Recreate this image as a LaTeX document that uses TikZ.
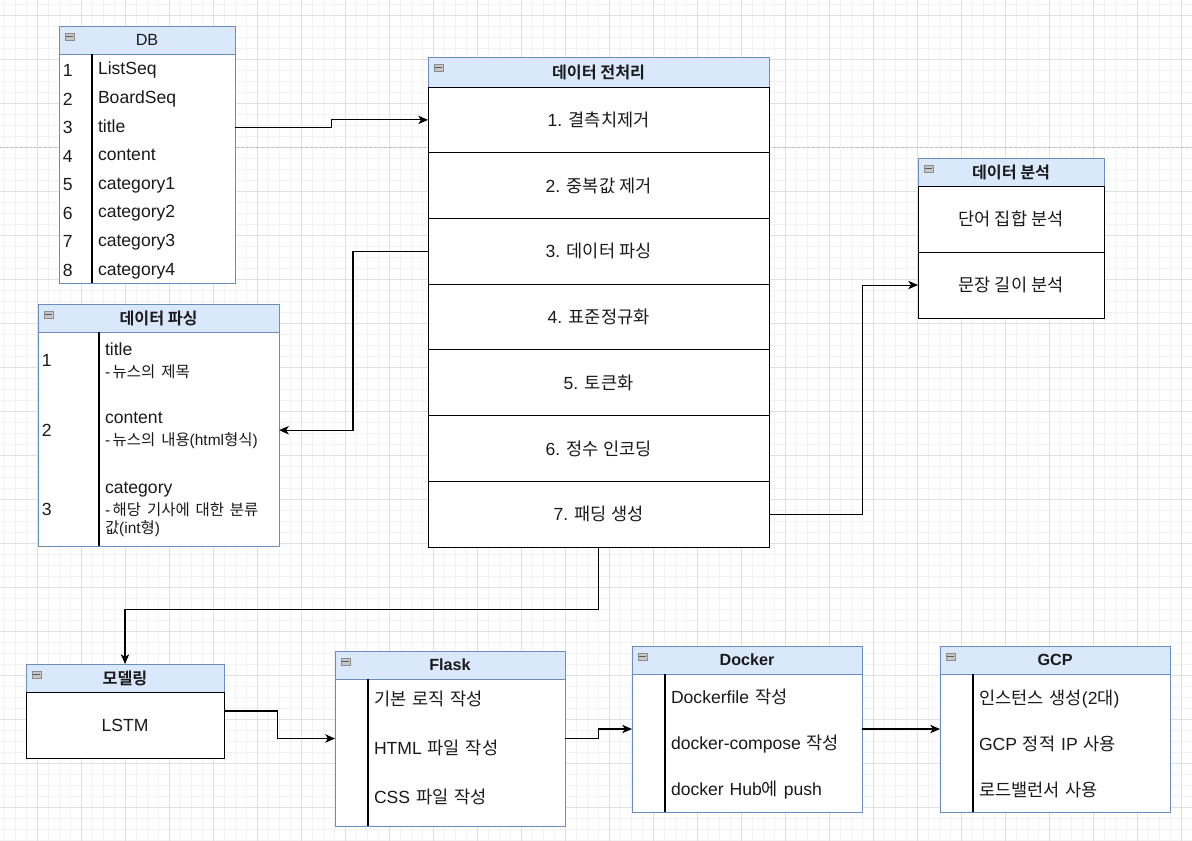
\documentclass[tikz,border=0pt]{standalone}
\usepackage{fontspec}
\setmainfont{Liberation Sans}
\newfontfamily\kr{Noto Sans CJK KR}[BoldFont={Noto Sans CJK KR Bold}]
\usetikzlibrary{positioning, arrows.meta}
\definecolor{hdrfill}{HTML}{DAE8FC}
\definecolor{hdrline}{HTML}{6C8EBF}
\definecolor{ink}{HTML}{1A1A1A}
\newcommand{\headfont}{\fontsize{11.5}{13}\selectfont}
\newcommand{\cellfont}{\fontsize{12.5}{14.3}\selectfont}
\newcommand{\subfont}{\fontsize{11}{12}\selectfont}
\tikzstyle{line} = [draw, line width=0.75pt, -{Stealth[length=7pt, width=6pt, inset=2pt]}]
\tikzstyle{frame} = [rectangle, draw=hdrline, fill=white, anchor=north west, inner sep=0pt, outer sep=0pt, line width=0.7pt]
\tikzstyle{head} = [rectangle, draw=hdrline, fill=hdrfill, anchor=north west, inner sep=0pt, outer sep=0pt, minimum height=0.7cm, line width=0.7pt, text=ink, font=\headfont\bfseries]
\tikzstyle{cell} = [rectangle, draw=black, fill=white, anchor=north, inner sep=0pt, outer sep=0pt, line width=0.7pt, text=ink, font=\cellfont]
\tikzstyle{item} = [rectangle, anchor=north west, inner xsep=0.15cm, inner ysep=0pt, outer sep=0pt, align=left, text=ink, font=\cellfont]
\tikzstyle{row} = [item, text height=9.5pt, text depth=3pt]
\tikzstyle{dbrow} = [row, minimum height=0.715cm, text width=3.275cm]
\tikzstyle{toolrow} = [row, text width=4.625cm]
\tikzstyle{note} = [item, text width=4.2cm, font=\fontsize{12.5}{15.5}\selectfont]
\tikzstyle{num} = [rectangle, inner sep=0pt, text=ink, font=\cellfont]
\tikzstyle{divider} = [draw=black, line width=0.8pt]
\newcommand{\foldicon}[1]{%
	\draw[draw=black!45, fill=black!22] ([shift={(6,7)}]#1.north west) rectangle ++(9,7);
	\draw[black!65, line width=0.9pt] ([shift={(7,10.5)}]#1.north west) -- ++(7,0);
}

\begin{document}
\begin{tikzpicture}[x=0.025cm, y=-0.025cm]
		\useasboundingbox (0,0) rectangle (1192,841);
		
		% background grid
		\foreach \x in {4.3,15.3,...,1192} \draw[black!5, line width=0.6pt] (\x,0) -- (\x,841);
		\foreach \y in {4.3,15.3,...,841} \draw[black!5, line width=0.6pt] (0,\y) -- (1192,\y);
		\foreach \x in {37.3,81.3,...,1192} \draw[black!12, line width=0.6pt] (\x,0) -- (\x,841);
		\foreach \y in {15.3,59.3,...,841} \draw[black!12, line width=0.6pt] (0,\y) -- (1192,\y);
		\draw[black!25, line width=0.7pt, dash pattern=on 2.1pt off 1.4pt] (0,147) -- (1192,147);
		
		% DB
		\node [frame, minimum width=4.4cm, minimum height=6.425cm] (db) at (59,26) {};
		\node [head, minimum width=4.4cm, font=\headfont] (dbh) at (db.north west) {DB};
		\node [dbrow, yshift=-1.4pt] (db1) at ([xshift=0.825cm]dbh.south west) {ListSeq};
		\node [dbrow, below=0pt of db1] (db2) {BoardSeq};
		\node [dbrow, below=0pt of db2] (db3) {title};
		\node [dbrow, below=0pt of db3] (db4) {content};
		\node [dbrow, below=0pt of db4] (db5) {category1};
		\node [dbrow, below=0pt of db5] (db6) {category2};
		\node [dbrow, below=0pt of db6] (db7) {category3};
		\node [dbrow, below=0pt of db7] (db8) {category4};
		\node [num, left=0.475cm of db1.west] (dbn1) {1};
		\node [num, left=0.475cm of db2.west] (dbn2) {2};
		\node [num, left=0.475cm of db3.west] (dbn3) {3};
		\node [num, left=0.475cm of db4.west] (dbn4) {4};
		\node [num, left=0.475cm of db5.west] (dbn5) {5};
		\node [num, left=0.475cm of db6.west] (dbn6) {6};
		\node [num, left=0.475cm of db7.west] (dbn7) {7};
		\node [num, left=0.475cm of db8.west] (dbn8) {8};
		\draw [divider] ([xshift=0.825cm]dbh.south west) -- ([xshift=0.825cm]db.south west);
		\foldicon{dbh}
		
		% data parsing
		\node [frame, minimum width=6.025cm, minimum height=6.05cm] (pa) at (38,304) {};
		\node [head, minimum width=6.025cm] (pah) at (pa.north west) {{\kr 데이터 파싱}};
		\node [note] (pa1) at ([shift={(61,11)}]pah.south west) {title\\{\subfont -\,{\kr 뉴스의 제목}}};
		\node [note] (pa2) at ([shift={(61,80)}]pah.south west) {content\\{\subfont -\,{\kr 뉴스의 내용}(html{\kr 형식})}};
		\node [note] (pa3) at ([shift={(61,150)}]pah.south west) {category\\{\subfont -\,{\kr 해당 기사에 대한 분류}}\\[-2.7pt]{\subfont {\kr 값}(int{\kr 형})}};
		\node [num, left=1.175cm of pa1.west] (pan1) {1};
		\node [num, left=1.175cm of pa2.west] (pan2) {2};
		\node [num, left=1.175cm of pa3.west] (pan3) {3};
		\draw [divider] ([xshift=1.525cm]pah.south west) -- ([xshift=1.525cm]pa.south west);
		\foldicon{pah}
		
		% preprocessing
		\node [frame, minimum width=8.525cm, minimum height=12.25cm] (pre) at (428,57) {};
		\node [head, minimum width=8.525cm, minimum height=0.75cm] (preh) at (pre.north west) {{\kr 데이터 전처리}};
		\node [cell, minimum width=8.525cm, minimum height=1.643cm, below=0pt of preh] (pre1) {1. {\kr 결측치제거}};
		\node [cell, minimum width=8.525cm, minimum height=1.643cm, below=0pt of pre1] (pre2) {2. {\kr 중복값 제거}};
		\node [cell, minimum width=8.525cm, minimum height=1.643cm, below=0pt of pre2] (pre3) {3. {\kr 데이터 파싱}};
		\node [cell, minimum width=8.525cm, minimum height=1.643cm, below=0pt of pre3] (pre4) {4. {\kr 표준정규화}};
		\node [cell, minimum width=8.525cm, minimum height=1.643cm, below=0pt of pre4] (pre5) {5. {\kr 토큰화}};
		\node [cell, minimum width=8.525cm, minimum height=1.643cm, below=0pt of pre5] (pre6) {6. {\kr 정수 인코딩}};
		\node [cell, minimum width=8.525cm, minimum height=1.643cm, below=0pt of pre6] (pre7) {7. {\kr 패딩 생성}};
		\foldicon{preh}
		
		% data analysis
		\node [frame, minimum width=4.65cm, minimum height=4cm] (an) at (918,158) {};
		\node [head, minimum width=4.65cm] (anh) at (an.north west) {{\kr 데이터 분석}};
		\node [cell, minimum width=4.65cm, minimum height=1.65cm, below=0pt of anh] (an1) {{\kr 단어 집합 분석}};
		\node [cell, minimum width=4.65cm, minimum height=1.65cm, below=0pt of an1] (an2) {{\kr 문장 길이 분석}};
		\foldicon{anh}
		
		% modeling
		\node [frame, minimum width=4.95cm, minimum height=2.35cm] (mo) at (26,664) {};
		\node [head, minimum width=4.95cm] (moh) at (mo.north west) {{\kr 모델링}};
		\node [cell, minimum width=4.95cm, minimum height=1.65cm, below=0pt of moh] (mo1) {LSTM};
		\foldicon{moh}
		
		% Flask
		\node [frame, minimum width=5.75cm, minimum height=4.375cm] (fl) at (335,651) {};
		\node [head, minimum width=5.75cm] (flh) at (fl.north west) {Flask};
		\node [toolrow, minimum height=1.225cm, yshift=2pt] (fl1) at ([xshift=0.825cm]flh.south west) {{\kr 기본 로직 작성}};
		\node [toolrow, minimum height=1.225cm, below=0pt of fl1] (fl2) {HTML {\kr 파일 작성}};
		\node [toolrow, minimum height=1.225cm, below=0pt of fl2] (fl3) {CSS {\kr 파일 작성}};
		\draw [divider] ([xshift=0.825cm]flh.south west) -- ([xshift=0.825cm]fl.south west);
		\foldicon{flh}
		
		% Docker
		\node [frame, minimum width=5.75cm, minimum height=4.15cm] (dk) at (632,646) {};
		\node [head, minimum width=5.75cm] (dkh) at (dk.north west) {Docker};
		\node [toolrow, minimum height=1.15cm, yshift=-1.4pt] (dk1) at ([xshift=0.825cm]dkh.south west) {Dockerfile {\kr 작성}};
		\node [toolrow, minimum height=1.15cm, below=0pt of dk1] (dk2) {docker-compose {\kr 작성}};
		\node [toolrow, minimum height=1.15cm, below=0pt of dk2] (dk3) {docker Hub{\kr 에} push};
		\draw [divider] ([xshift=0.825cm]dkh.south west) -- ([xshift=0.825cm]dk.south west);
		\foldicon{dkh}
		
		% GCP
		\node [frame, minimum width=5.75cm, minimum height=4.15cm] (gc) at (940,646) {};
		\node [head, minimum width=5.75cm] (gch) at (gc.north west) {GCP};
		\node [toolrow, minimum height=1.15cm, yshift=-1.8pt] (gc1) at ([xshift=0.825cm]gch.south west) {{\kr 인스턴스 생성}(2{\kr 대})};
		\node [toolrow, minimum height=1.15cm, below=0pt of gc1] (gc2) {GCP {\kr 정적} IP {\kr 사용}};
		\node [toolrow, minimum height=1.15cm, below=0pt of gc2] (gc3) {{\kr 로드밸런서 사용}};
		\draw [divider] ([xshift=0.825cm]gch.south west) -- ([xshift=0.825cm]gc.south west);
		\foldicon{gch}
		
		% connectors
		\path [line] (db3.east) -- ++(96,0) |- (pre1.west);
		\path [line] (pre3.west) -- ++(-75,0) |- (pa2.east);
		\path [line] (pre7.east) -- ++(93,0) |- (an2.west);
		\path [line] (pre.south) -- ++(0,62) -| (mo.north);
		\path [line] (mo.east) -- ++(53,0) |- (fl.west);
		\path [line] (fl.east) -- ++(33,0) |- (dk.west);
		\path [line] (dk.east) -- (gc.west);
\end{tikzpicture}
\end{document}
